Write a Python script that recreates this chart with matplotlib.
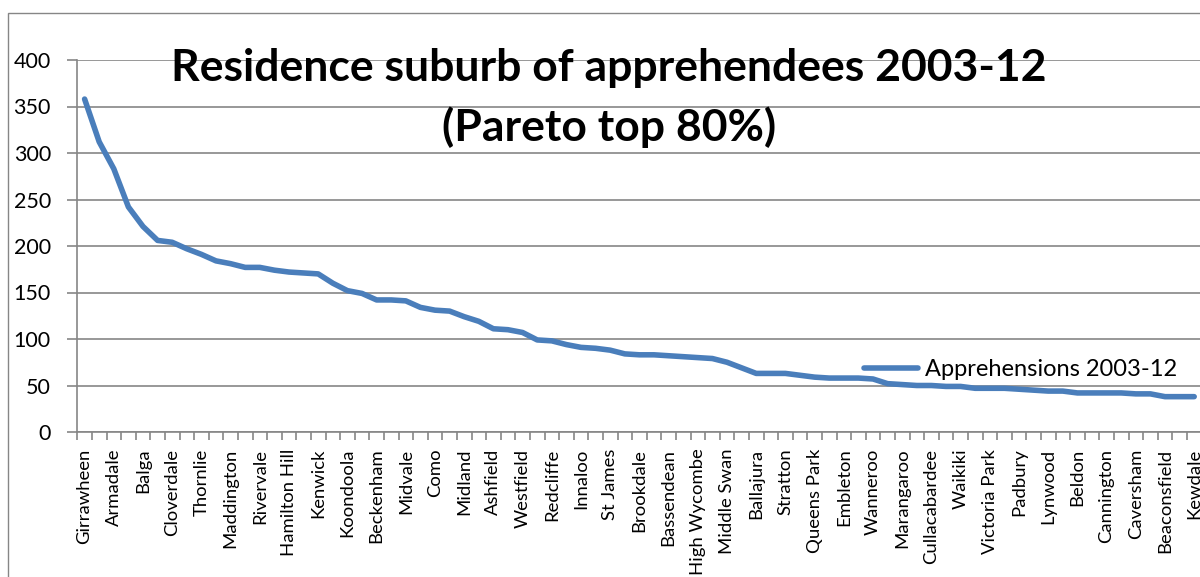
import matplotlib
matplotlib.use("Agg")
import matplotlib.pyplot as plt
from matplotlib.patches import Rectangle

plt.rcParams['font.family'] = ['Lato', 'DejaVu Sans']

labeled = ["Girrawheen", "Armadale", "Balga", "Cloverdale", "Thornlie", "Maddington",
           "Rivervale", "Hamilton Hill", "Kenwick", "Koondoola", "Beckenham", "Midvale",
           "Como", "Midland", "Ashfield", "Westfield", "Redcliffe", "Innaloo", "St James",
           "Brookdale", "Bassendean", "High Wycombe", "Middle Swan", "Ballajura", "Stratton",
           "Queens Park", "Embleton", "Wanneroo", "Marangaroo", "Cullacabardee", "Waikiki",
           "Victoria Park", "Padbury", "Lynwood", "Beldon", "Cannington", "Caversham",
           "Beaconsfield", "Kewdale"]

# 77 suburbs; only every second name is printed on the axis
categories = []
for i, name in enumerate(labeled):
    categories.append(name)
    if i < len(labeled) - 1:
        categories.append("")

values = [358, 312, 283, 242, 221, 206, 204, 197, 191, 184,
          181, 177, 177, 174, 172, 171, 170, 160, 152, 149,
          142, 142, 141, 134, 131, 130, 124, 119, 111, 110,
          107, 99, 98, 94, 91, 90, 88, 84, 83, 83,
          82, 81, 80, 79, 75, 69, 63, 63, 63, 61,
          59, 58, 58, 58, 57, 52, 51, 50, 50, 49,
          49, 47, 47, 47, 46, 45, 44, 44, 42, 42,
          42, 42, 41, 41, 38, 38, 38]

series_name = "Apprehensions 2003-12"
title1 = "Residence suburb of apprehendees 2003-12"
title2 = "(Pareto top 80%)"
yticks = [0, 50, 100, 150, 200, 250, 300, 350, 400]

W, H = 1200, 577
fig = plt.figure(figsize=(W / 100, H / 100), dpi=100)

# outer chart frame
fig.patches.append(Rectangle((8 / W, -0.1), 1.2, 1 - 13 / H + 0.1, transform=fig.transFigure,
                             fill=False, edgecolor="#868686", linewidth=1.0))

grey = "#868686"
left, right, top, bottom = 77.3, 1201.5, 60, 432
ax = fig.add_axes([left / W, 1 - bottom / H, (right - left) / W, (bottom - top) / H])
ax.set_facecolor("none")

x = list(range(len(values)))
line, = ax.plot(x, values, color="#4a7ebb", linewidth=4.0, solid_capstyle="round",
                solid_joinstyle="round", label=series_name, zorder=3)

ax.set_xlim(-0.5, len(values) - 0.5)
ax.set_ylim(0, 400)
ax.set_yticks(yticks)
ax.yaxis.grid(True, color=grey, linewidth=1.2)
ax.set_axisbelow(True)
for s in ["top", "right"]:
    ax.spines[s].set_visible(False)
for s in ["left", "bottom"]:
    ax.spines[s].set_color(grey)
    ax.spines[s].set_linewidth(1.2)

ax.tick_params(axis="y", direction="out", length=7, width=1.2, color=grey,
               labelsize=15.5, pad=12, labelcolor="black")

label_idx = [i for i, c in enumerate(categories) if c]
ax.set_xticks(label_idx)
ax.set_xticklabels([categories[i] for i in label_idx], rotation=90, fontsize=13.3,
                   va="top", ha="center")
ax.tick_params(axis="x", which="major", length=0, pad=12)
ax.set_xticks([i - 0.5 for i in range(len(values) + 1)], minor=True)
ax.tick_params(axis="x", which="minor", direction="out", length=6, width=1.2, color=grey)

ax.legend(handles=[line], loc="upper left", bbox_to_anchor=(864 / W, 1 - 359 / H),
          bbox_transform=fig.transFigure, frameon=False, fontsize=17,
          handlelength=2.3, handletextpad=0.3, borderaxespad=0, borderpad=0)

fig.text(609 / W, 1 - 81 / H, title1, ha="center", va="baseline",
         fontsize=32, fontweight="bold")
fig.text(609 / W, 1 - 141 / H, title2, ha="center", va="baseline",
         fontsize=32, fontweight="bold")

fig.savefig("out.png", dpi=100)
